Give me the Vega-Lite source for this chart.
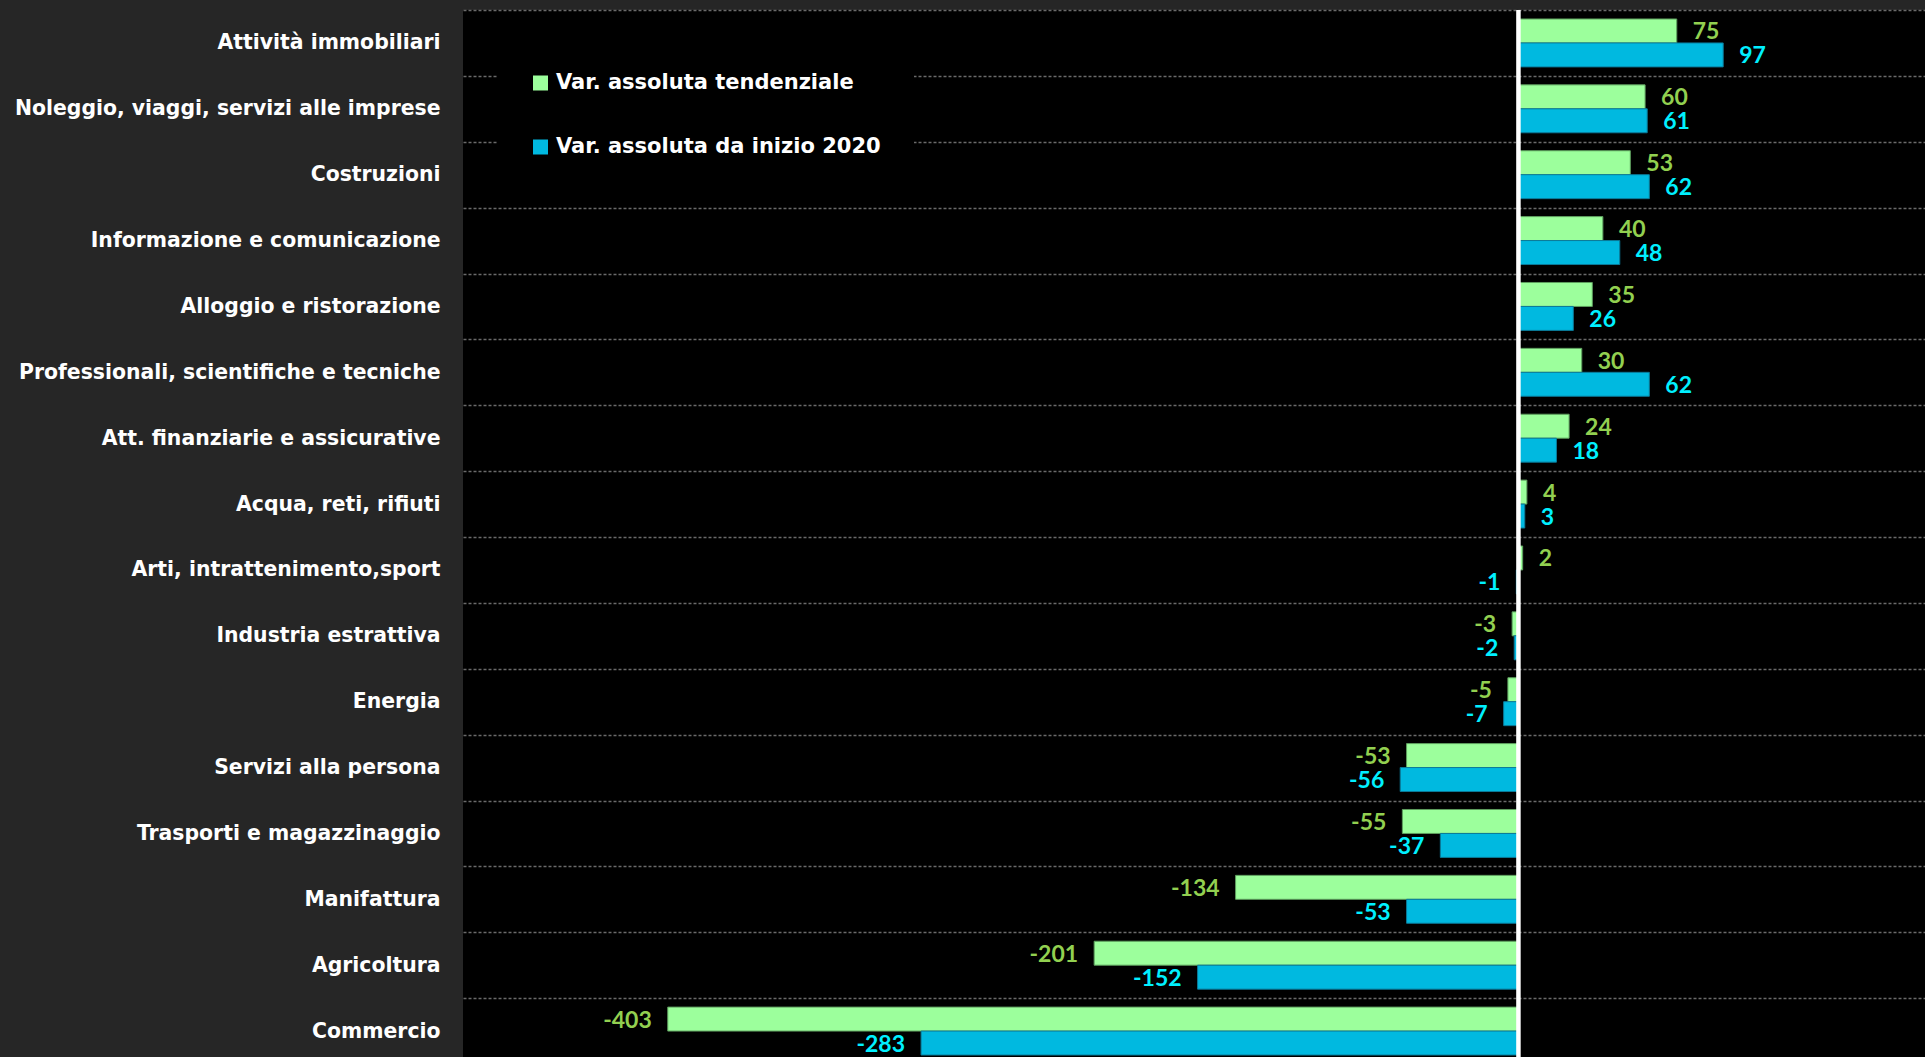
{
  "$schema": "https://vega.github.io/schema/vega-lite/v6.json",
  "width": 1462,
  "height": 1047,
  "autosize": {"type": "none"},
  "padding": {"left": 463, "top": 10, "right": 0, "bottom": 0},
  "background": "#262626",
  "config": {"view": {"fill": "#000000", "stroke": null}, "font": "DejaVu Sans"},
  "data": {"values": [
    {"settore": "Attività immobiliari", "serie": "Var. assoluta tendenziale", "valore": 75},
    {"settore": "Attività immobiliari", "serie": "Var. assoluta da inizio 2020", "valore": 97},
    {"settore": "Noleggio, viaggi, servizi alle imprese", "serie": "Var. assoluta tendenziale", "valore": 60},
    {"settore": "Noleggio, viaggi, servizi alle imprese", "serie": "Var. assoluta da inizio 2020", "valore": 61},
    {"settore": "Costruzioni", "serie": "Var. assoluta tendenziale", "valore": 53},
    {"settore": "Costruzioni", "serie": "Var. assoluta da inizio 2020", "valore": 62},
    {"settore": "Informazione e comunicazione", "serie": "Var. assoluta tendenziale", "valore": 40},
    {"settore": "Informazione e comunicazione", "serie": "Var. assoluta da inizio 2020", "valore": 48},
    {"settore": "Alloggio e ristorazione", "serie": "Var. assoluta tendenziale", "valore": 35},
    {"settore": "Alloggio e ristorazione", "serie": "Var. assoluta da inizio 2020", "valore": 26},
    {"settore": "Professionali, scientifiche e tecniche", "serie": "Var. assoluta tendenziale", "valore": 30},
    {"settore": "Professionali, scientifiche e tecniche", "serie": "Var. assoluta da inizio 2020", "valore": 62},
    {"settore": "Att. finanziarie e assicurative", "serie": "Var. assoluta tendenziale", "valore": 24},
    {"settore": "Att. finanziarie e assicurative", "serie": "Var. assoluta da inizio 2020", "valore": 18},
    {"settore": "Acqua, reti, rifiuti", "serie": "Var. assoluta tendenziale", "valore": 4},
    {"settore": "Acqua, reti, rifiuti", "serie": "Var. assoluta da inizio 2020", "valore": 3},
    {"settore": "Arti, intrattenimento,sport", "serie": "Var. assoluta tendenziale", "valore": 2},
    {"settore": "Arti, intrattenimento,sport", "serie": "Var. assoluta da inizio 2020", "valore": -1},
    {"settore": "Industria estrattiva", "serie": "Var. assoluta tendenziale", "valore": -3},
    {"settore": "Industria estrattiva", "serie": "Var. assoluta da inizio 2020", "valore": -2},
    {"settore": "Energia", "serie": "Var. assoluta tendenziale", "valore": -5},
    {"settore": "Energia", "serie": "Var. assoluta da inizio 2020", "valore": -7},
    {"settore": "Servizi alla persona", "serie": "Var. assoluta tendenziale", "valore": -53},
    {"settore": "Servizi alla persona", "serie": "Var. assoluta da inizio 2020", "valore": -56},
    {"settore": "Trasporti e magazzinaggio", "serie": "Var. assoluta tendenziale", "valore": -55},
    {"settore": "Trasporti e magazzinaggio", "serie": "Var. assoluta da inizio 2020", "valore": -37},
    {"settore": "Manifattura", "serie": "Var. assoluta tendenziale", "valore": -134},
    {"settore": "Manifattura", "serie": "Var. assoluta da inizio 2020", "valore": -53},
    {"settore": "Agricoltura", "serie": "Var. assoluta tendenziale", "valore": -201},
    {"settore": "Agricoltura", "serie": "Var. assoluta da inizio 2020", "valore": -152},
    {"settore": "Commercio", "serie": "Var. assoluta tendenziale", "valore": -403},
    {"settore": "Commercio", "serie": "Var. assoluta da inizio 2020", "valore": -283}
  ]},
  "layer": [
    {
      "mark": {"type": "bar", "strokeWidth": 1},
      "encoding": {
        "y": {"field": "settore", "type": "nominal", "sort": null,
              "scale": {"paddingInner": 0, "paddingOuter": 0, "range": [0, 1054]},
              "axis": {"title": null, "labelColor": "#FFFFFF", "labelFontSize": 20.4, "labelFontWeight": "bold", "labelFont": "DejaVu Sans",
                       "labelPadding": 23, "labelLimit": 500, "ticks": false, "domain": false, "grid": true, "tickBand": "extent",
                       "gridColor": "#6a6a6a", "gridDash": [3, 2], "gridWidth": 1.3}},
        "x": {"field": "valore", "type": "quantitative", "scale": {"domain": [-500, 192.6], "nice": false}, "axis": null},
        "yOffset": {"field": "serie", "type": "nominal", "sort": ["Var. assoluta tendenziale", "Var. assoluta da inizio 2020"],
                    "scale": {"paddingInner": 0, "paddingOuter": 0.375}},
        "color": {"field": "serie", "type": "nominal",
                  "scale": {"domain": ["Var. assoluta tendenziale", "Var. assoluta da inizio 2020"], "range": ["#9CFF9C", "#00B9E0"]},
                  "legend": {"orient": "none", "legendX": 34, "legendY": 29.5, "title": null, "fillColor": "#000000", "padding": 33,
                             "symbolType": "square", "symbolSize": 225, "symbolStrokeWidth": 0, "labelColor": "#FFFFFF",
                             "labelFontSize": 21, "labelFontWeight": "bold", "labelFont": "DejaVu Sans", "rowPadding": 42,
                             "labelOffset": 5, "labelLimit": 600, "direction": "vertical"}},
        "stroke": {"condition": {"test": "datum.serie === 'Var. assoluta tendenziale'", "value": "#5E9E5E"}, "value": "#0A7A99"}
      }
    },
    {
      "transform": [{"filter": "datum.valore >= 0"}],
      "mark": {"type": "text", "align": "left", "baseline": "middle", "dx": 16, "dy": 1.5, "fontSize": 23, "fontWeight": "bold", "font": "Lato"},
      "encoding": {
        "y": {"field": "settore", "type": "nominal", "sort": null},
        "x": {"field": "valore", "type": "quantitative"},
        "yOffset": {"field": "serie", "type": "nominal", "sort": ["Var. assoluta tendenziale", "Var. assoluta da inizio 2020"]},
        "text": {"field": "valore", "type": "nominal"},
        "color": {"condition": {"test": "datum.serie === 'Var. assoluta tendenziale'", "value": "#92D050"}, "value": "#00F0FF"}
      }
    },
    {
      "transform": [{"filter": "datum.valore < 0"}],
      "mark": {"type": "text", "align": "right", "baseline": "middle", "dx": -16, "dy": 1.5, "fontSize": 23, "fontWeight": "bold", "font": "Lato"},
      "encoding": {
        "y": {"field": "settore", "type": "nominal", "sort": null},
        "x": {"field": "valore", "type": "quantitative"},
        "yOffset": {"field": "serie", "type": "nominal", "sort": ["Var. assoluta tendenziale", "Var. assoluta da inizio 2020"]},
        "text": {"field": "valore", "type": "nominal"},
        "color": {"condition": {"test": "datum.serie === 'Var. assoluta tendenziale'", "value": "#92D050"}, "value": "#00F0FF"}
      }
    },
    {
      "data": {"values": [{"zero": 0}]},
      "mark": {"type": "rule", "color": "#FFFFFF", "strokeWidth": 4.5},
      "encoding": {"x": {"field": "zero", "type": "quantitative"}}
    }
  ]
}
